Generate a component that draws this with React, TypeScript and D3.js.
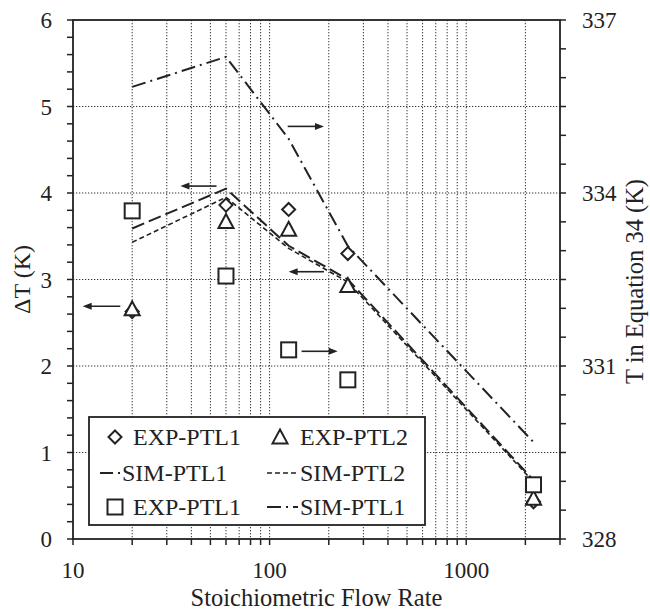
import React from "react";
import * as d3 from "d3";

// ---- data ----
const flowRates = [20, 60, 125, 250, 2200];
const expPtl1Left = [2.63, 3.86, 3.81, 3.3, 0.43]; // diamonds, ΔT (K)
const expPtl2Left = [2.66, 3.67, 3.58, 2.93, 0.47]; // triangles, ΔT (K)
const simPtl1Left = [3.59, 4.05, 3.39, 3.0, 0.68]; // long dash, ΔT (K)
const simPtl2Left = [3.43, 3.95, 3.36, 2.97, 0.66]; // short dash, ΔT (K)
const expPtl1Right = [333.69, 332.56, 331.28, 330.76, 328.94]; // squares, T (K)
const simPtl1Right = [335.84, 336.36, 334.94, 333.08, 329.68]; // dash-dot, T (K)

const leftTicks = [0, 1, 2, 3, 4, 5, 6];
const rightTicks = [328, 331, 334, 337];
const xLabelTicks = [10, 100, 1000];

// arrows: x from, x to, ΔT level, direction
const arrowFrom = [123.6, 35.2, 125, 11.2, 145.5];
const arrowTo = [189, 53.7, 189, 17.4, 222];
const arrowLevel = [4.77, 4.08, 3.09, 2.69, 2.17];
const arrowDir = ["right", "left", "left", "left", "right"];

const legendLabels = ["EXP-PTL1", "EXP-PTL2", "SIM-PTL1", "SIM-PTL2", "EXP-PTL1", "SIM-PTL1"];
const legendKinds = ["diamond", "triangle", "longdash", "shortdash", "square", "dashdot"];

const W = 650;
const H = 610;
const M = { left: 73, right: 560, top: 20, bottom: 539 };
const INK = "#222";

const dashes: Record<string, string> = {
  longdash: "13,5",
  shortdash: "5,3",
  dashdot: "14,5,2,5",
};

function Marker({ kind, cx, cy }: { kind: string; cx: number; cy: number }) {
  const sw = 2;
  if (kind === "diamond") {
    const r = 6.5;
    return (
      <path
        d={`M${cx},${cy - r}L${cx + r},${cy}L${cx},${cy + r}L${cx - r},${cy}Z`}
        fill="#fff"
        stroke={INK}
        strokeWidth={sw}
      />
    );
  }
  if (kind === "triangle") {
    const r = 7.5;
    return (
      <path
        d={`M${cx},${cy - r}L${cx + r},${cy + r * 0.85}L${cx - r},${cy + r * 0.85}Z`}
        fill="#fff"
        stroke={INK}
        strokeWidth={sw}
      />
    );
  }
  const s = 7.5;
  return (
    <rect x={cx - s} y={cy - s} width={2 * s} height={2 * s} fill="#fff" stroke={INK} strokeWidth={sw} />
  );
}

function T(props: any) {
  const { children, size, ...rest } = props;
  return (
    <text {...rest} fill={INK} style={{ fontFamily: "Liberation Serif", fontSize: size + "px" }}>
      {children}
    </text>
  );
}

export default function App() {
  const x = d3.scaleLog().domain([10, 3000]).range([M.left, M.right]);
  const yL = d3.scaleLinear().domain([0, 6]).range([M.bottom, M.top]);
  const yR = d3.scaleLinear().domain([328, 337]).range([M.bottom, M.top]);

  const xGrid: number[] = [];
  [10, 100, 1000].forEach((d) => {
    for (let k = 1; k <= 9; k++) {
      const v = d * k;
      if (v > 10 && v < 3000) xGrid.push(v);
    }
  });
  const xTicks = [10, ...xGrid, 3000];
  const leftMinor = d3.range(0, 30.5, 1).map((i) => i * 0.2);
  const rightMinor = d3.range(0, 18.5, 1).map((i) => 328 + i * 0.5);

  const lineL = d3
    .line<[number, number]>()
    .x((d) => x(d[0]))
    .y((d) => yL(d[1]));
  const lineR = d3
    .line<[number, number]>()
    .x((d) => x(d[0]))
    .y((d) => yR(d[1]));

  const zip = (vals: number[]) => flowRates.map((f, i) => [f, vals[i]] as [number, number]);

  // legend layout
  const lg = { x: 89, y: 417, w: 336, h: 108 };
  const rowY = [437, 473, 507];
  const colSym = [115, 280];
  const colText = [133, 300];

  return (
    <svg width={W} height={H} style={{ display: "block", position: "absolute", left: 0, top: 0 }}>
      <style>{"text { font-family: 'Liberation Serif', 'Times New Roman', serif; }"}</style>
      <rect width={W} height={H} fill="#fff" />
      {/* grid */}
      <g stroke="#333" strokeWidth={1} strokeDasharray="1.3,1.7">
        {xGrid.map((v) => (
          <line key={"gx" + v} x1={x(v)} x2={x(v)} y1={M.top} y2={M.bottom} />
        ))}
        {[1, 2, 3, 4, 5].map((v) => (
          <line key={"gy" + v} x1={M.left} x2={M.right} y1={yL(v)} y2={yL(v)} />
        ))}
      </g>

      {/* lines */}
      <g fill="none" stroke={INK}>
        <path d={lineL(zip(simPtl1Left)) || ""} strokeWidth={2} strokeDasharray={dashes.longdash} />
        <path d={lineL(zip(simPtl2Left)) || ""} strokeWidth={1.6} strokeDasharray={dashes.shortdash} />
        <path d={lineR(zip(simPtl1Right)) || ""} strokeWidth={2} strokeDasharray={dashes.dashdot} />
      </g>

      {/* markers */}
      {flowRates.map((f, i) => (
        <Marker key={"d" + i} kind="diamond" cx={x(f)} cy={yL(expPtl1Left[i])} />
      ))}
      {flowRates.map((f, i) => (
        <Marker key={"t" + i} kind="triangle" cx={x(f)} cy={yL(expPtl2Left[i])} />
      ))}
      {flowRates.map((f, i) => (
        <Marker key={"s" + i} kind="square" cx={x(f)} cy={yR(expPtl1Right[i])} />
      ))}

      {/* arrows */}
      {arrowFrom.map((a, i) => {
        const x1 = x(a);
        const x2 = x(arrowTo[i]);
        const yy = yL(arrowLevel[i]);
        const right = arrowDir[i] === "right";
        const tip = right ? x2 : x1;
        const back = right ? tip - 9 : tip + 9;
        return (
          <g key={"ar" + i}>
            <line x1={right ? x1 : x1 + 6} x2={right ? x2 - 6 : x2} y1={yy} y2={yy} stroke={INK} strokeWidth={1.6} />
            <path d={`M${tip},${yy}L${back},${yy - 3.5}L${back},${yy + 3.5}Z`} fill={INK} />
          </g>
        );
      })}

      {/* legend */}
      <rect x={lg.x} y={lg.y} width={lg.w} height={lg.h} fill="#fff" stroke={INK} strokeWidth={1.8} />
      {legendLabels.map((lab, i) => {
        const col = i % 2;
        const row = Math.floor(i / 2);
        const kind = legendKinds[i];
        const cy = rowY[row];
        const isLine = kind in dashes;
        return (
          <g key={"lg" + i}>
            {isLine ? (
              <line
                x1={col === 0 ? 100 : 267}
                x2={col === 0 ? 120 : 298}
                y1={cy}
                y2={cy}
                stroke={INK}
                strokeWidth={kind === "shortdash" ? 1.6 : 2}
                strokeDasharray={dashes[kind]}
              />
            ) : (
              <Marker kind={kind} cx={colSym[col]} cy={cy} />
            )}
            <T x={isLine ? (col === 0 ? 122 : 300) : colText[col]} y={cy} dy="0.35em" size={24}>
              {lab}
            </T>
          </g>
        );
      })}

      {/* axes frame */}
      <rect
        x={M.left}
        y={M.top}
        width={M.right - M.left}
        height={M.bottom - M.top}
        fill="none"
        stroke={INK}
        strokeWidth={1.8}
      />

      {/* ticks */}
      <g stroke={INK} strokeWidth={1.5}>
        {xTicks.map((v) => (
          <line key={"xt" + v} x1={x(v)} x2={x(v)} y1={M.bottom} y2={M.bottom + 6} />
        ))}
        {leftMinor.map((v, i) => (
          <line key={"lt" + i} x1={M.left - 6} x2={M.left} y1={yL(v)} y2={yL(v)} />
        ))}
        {rightMinor.map((v, i) => (
          <line key={"rt" + i} x1={M.right} x2={M.right + 6} y1={yR(v)} y2={yR(v)} />
        ))}
      </g>

      {/* tick labels */}
      {xLabelTicks.map((v) => (
        <T key={"xl" + v} x={x(v)} y={578} textAnchor="middle" size={23}>
          {v}
        </T>
      ))}
      {leftTicks.map((v) => (
        <T key={"yl" + v} x={52} y={yL(v)} dy="0.35em" textAnchor="end" size={23}>
          {v}
        </T>
      ))}
      {rightTicks.map((v) => (
        <T key={"yr" + v} x={582} y={yR(v)} dy="0.35em" textAnchor="start" size={23}>
          {v}
        </T>
      ))}

      {/* axis titles */}
      <T x={(M.left + M.right) / 2} y={606} textAnchor="middle" size={24.5}>
        Stoichiometric Flow Rate
      </T>
      <T transform={`translate(30,${(M.top + M.bottom) / 2}) rotate(-90)`} textAnchor="middle" size={24}>
        ΔT (K)
      </T>
      <T transform={`translate(643,${(M.top + M.bottom) / 2 + 2}) rotate(-90)`} textAnchor="middle" size={24.5}>
        T in Equation 34 (K)
      </T>
    </svg>
  );
}
